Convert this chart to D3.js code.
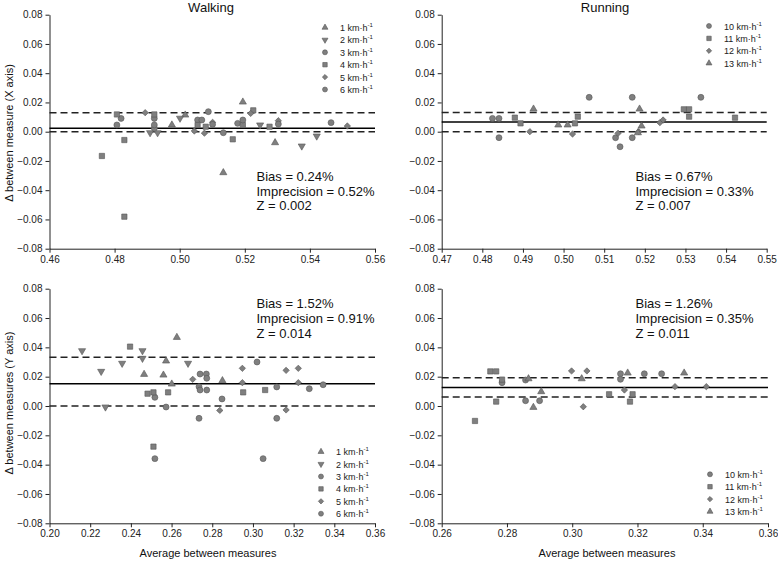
<!DOCTYPE html>
<html>
<head>
<meta charset="utf-8">
<script src="https://cdn.jsdelivr.net/npm/d3@7"></script>
<style>
  body { margin: 0; background: #fff; }
  svg { font-family: "Liberation Sans", Arial, sans-serif; }
</style>
</head>
<body>
<svg width="778" height="563"></svg>
<script>
// walking, X axis  [average, difference]
const walkX1 = [[0.4976, 0.0046], [0.5017, 0.0114], [0.5134, -0.028], [0.5194, 0.0203], [0.5293, -0.0075]];
const walkX2 = [[0.4909, -0.0007], [0.4932, -0.0007], [0.5001, 0.0092], [0.5247, 0.0046], [0.5375, -0.0098], [0.5421, -0.003]];
const walkX3 = [[0.4807, 0.0046], [0.482, 0.0091], [0.4922, 0.0091], [0.5055, 0.008], [0.5068, 0.008], [0.5088, 0.0137], [0.5178, 0.0057]];
const walkX4 = [[0.4807, 0.0118], [0.4761, -0.0166], [0.483, -0.0057], [0.483, -0.0581], [0.4922, 0.0118], [0.5055, 0.0046],
  [0.508, 0.0034], [0.5163, -0.0052], [0.5194, 0.0046], [0.5226, 0.0146], [0.5276, 0.0034]];
const walkX5 = [[0.4894, 0.013], [0.5045, 0.0005], [0.5076, -0.001], [0.5101, 0.0064], [0.5218, 0.0125], [0.5303, 0.0075], [0.5515, 0.0039]];
const walkX6 = [[0.4922, 0.0023], [0.4922, 0.0046], [0.5101, 0.005], [0.5134, -0.0007], [0.5194, 0.008], [0.5303, 0.0052], [0.5465, 0.0062]];

// running, X axis
const runX10 = [[0.4825, 0.0091], [0.4841, 0.0091], [0.4841, -0.0041], [0.5063, 0.0235], [0.5128, -0.0041], [0.5139, -0.0103],
  [0.5169, 0.0235], [0.5169, -0.0041], [0.5338, 0.0235]];
const runX11 = [[0.488, 0.0096], [0.4894, 0.0057], [0.5028, 0.0057], [0.5035, 0.0103], [0.5296, 0.0153], [0.5309, 0.0153], [0.5309, 0.0103], [0.5422, 0.0096]];
const runX12 = [[0.4917, 0.0], [0.5022, -0.0016], [0.5134, -0.0011], [0.5185, 0.0], [0.5237, 0.0062], [0.5245, 0.008]];
const runX13 = [[0.4926, 0.0155], [0.4987, 0.0046], [0.501, 0.0046], [0.5187, 0.0155], [0.5183, -0.0007], [0.5192, 0.0039]];

// walking, Y axis
const walkY1 = [[0.2465, 0.0216], [0.2573, 0.0307], [0.256, 0.0211], [0.2601, 0.015], [0.2626, 0.0468], [0.285, 0.0173]];
const walkY2 = [[0.216, 0.0377], [0.2254, 0.0236], [0.2275, -0.0007], [0.2357, 0.0291], [0.2457, 0.0377], [0.2457, 0.0325], [0.2681, 0.0291]];
const walkY3 = [[0.2518, 0.0059], [0.2573, -0.0007], [0.274, 0.0218], [0.2735, 0.0132], [0.274, 0.0109], [0.2771, 0.0218],
  [0.2773, 0.0189], [0.2773, 0.0109], [0.2735, -0.0084], [0.2848, 0.0048]];
const walkY4 = [[0.2396, 0.0405], [0.2482, 0.0084], [0.2511, 0.0093], [0.2511, -0.0277], [0.2583, 0.0093], [0.2952, 0.0093], [0.306, 0.0109]];
const walkY5 = [[0.2704, 0.0182], [0.2837, -0.003], [0.2948, 0.0257], [0.2948, 0.0159], [0.3163, 0.0243], [0.3163, -0.0027], [0.3223, 0.0257], [0.3223, 0.0159]];
const walkY6 = [[0.2518, -0.0359], [0.302, 0.03], [0.305, -0.0359], [0.3117, 0.013], [0.3117, -0.0084], [0.3277, 0.0118], [0.3345, 0.0145]];

// running, Y axis
const runY10 = [[0.2785, 0.0159], [0.2857, 0.0177], [0.2857, 0.0036], [0.29, 0.0036], [0.3148, 0.022], [0.3148, 0.0182], [0.3221, 0.022], [0.3274, 0.022]];
const runY11 = [[0.2702, -0.0102], [0.2749, 0.0236], [0.2767, 0.0236], [0.2767, 0.003], [0.2785, 0.018], [0.3113, 0.008], [0.3177, 0.003], [0.3185, 0.008]];
const runY12 = [[0.2998, 0.0239], [0.3034, -0.0005], [0.3045, 0.0239], [0.316, 0.0109], [0.3315, 0.0132], [0.3411, 0.0132]];
const runY13 = [[0.2866, 0.0186], [0.2881, -0.0009], [0.2905, 0.0098], [0.3029, 0.0186], [0.317, 0.0225], [0.3343, 0.0225]];

// bias, upper and lower limits
const walkXLines = [0.0024, 0.013, 0.0];
const runXLines = [0.0067, 0.0132, 0.0];
const walkYLines = [0.0152, 0.0333, 0.0];
const runYLines = [0.0126, 0.0193, 0.0062];

const walkLabels = ["1", "2", "3", "4", "5", "6"];
const runLabels = ["10", "11", "12", "13"];
const walkShapes = ["tri", "down", "circle", "square", "diamond", "circle"];
const runShapes = ["circle", "square", "diamond", "tri"];

const yTicks = [-0.08, -0.06, -0.04, -0.02, 0, 0.02, 0.04, 0.06, 0.08];
const walkXTicks = [0.46, 0.48, 0.5, 0.52, 0.54, 0.56];
const runXTicks = [0.47, 0.48, 0.49, 0.5, 0.51, 0.52, 0.53, 0.54, 0.55];
const walkYTicks = [0.2, 0.22, 0.24, 0.26, 0.28, 0.3, 0.32, 0.34, 0.36];
const runYTicks = [0.26, 0.28, 0.3, 0.32, 0.34, 0.36];

const walkXStats = ["Bias = 0.24%", "Imprecision = 0.52%", "Z = 0.002"];
const runXStats = ["Bias = 0.67%", "Imprecision = 0.33%", "Z = 0.007"];
const walkYStats = ["Bias = 1.52%", "Imprecision = 0.91%", "Z = 0.014"];
const runYStats = ["Bias = 1.26%", "Imprecision = 0.35%", "Z = 0.011"];

const svg = d3.select("svg");

const symbolFor = (shape, k) => {
  if (shape === "tri" || shape === "down") return d3.symbol(d3.symbolTriangle, 22 * k)();
  if (shape === "square") return d3.symbol(d3.symbolSquare, 28 * k)();
  if (shape === "diamond") return d3.symbol(d3.symbolSquare, 20 * k)();
  return d3.symbol(d3.symbolCircle, 28 * k)();
};

const drawMarker = (g, shape, x, y, k = 1) => {
  let rot = "";
  if (shape === "down") rot = " rotate(180)";
  if (shape === "diamond") rot = " rotate(45)";
  g.append("path")
    .attr("d", symbolFor(shape, k))
    .attr("transform", `translate(${x},${y})` + rot)
    .attr("fill", "#7f7f7f")
    .attr("stroke", "#555")
    .attr("stroke-width", 0.6);
};

const drawPanel = (p) => {
  const x = d3.scaleLinear().domain(p.xDomain).range([p.left, p.right]);
  const y = d3.scaleLinear().domain([-0.08, 0.08]).range([p.bottom, p.top]);
  const g = svg.append("g");

  g.append("g")
    .attr("transform", `translate(${p.left},0)`)
    .call(d3.axisLeft(y).tickValues(yTicks).tickFormat(d3.format(".2f")).tickSize(4).tickSizeOuter(0))
    .call((a) => a.selectAll("text").attr("font-size", 10).attr("fill", "#222"));

  g.append("g")
    .attr("transform", `translate(0,${p.bottom})`)
    .call(d3.axisBottom(x).tickValues(p.xTicks).tickFormat(d3.format(".2f")).tickSize(4).tickSizeOuter(0))
    .call((a) => a.selectAll("text").attr("font-size", 10).attr("fill", "#222"));

  g.selectAll(".domain, .tick line").attr("stroke", "#222");
  g.selectAll("text").attr("font-family", "Liberation Sans, Arial, sans-serif");

  // bias line and limits
  p.lines.forEach((v, i) => {
    g.append("line")
      .attr("x1", p.left).attr("x2", p.right)
      .attr("y1", y(v)).attr("y2", y(v))
      .attr("stroke", i === 0 ? "#000" : "#222")
      .attr("stroke-width", 1.5)
      .attr("stroke-dasharray", i === 0 ? null : "7,4");
  });

  p.series.forEach((s, i) => {
    s.forEach((d) => drawMarker(g, p.shapes[i], x(d[0]), y(d[1])));
  });

  // legend
  p.labels.forEach((lab, i) => {
    const ly = p.legendY + i * 12.4;
    drawMarker(g, p.shapes[i], p.legendX, ly, 0.7);
    const t = g.append("text")
      .attr("x", p.legendX + 15).attr("y", ly + 3.5)
      .attr("font-size", 9).attr("fill", "#222");
    t.append("tspan").text(lab + " km\u00b7h");
    t.append("tspan").attr("dy", -4).attr("font-size", 6).text("-1");
  });

  // stats
  p.stats.forEach((s, i) => {
    g.append("text")
      .attr("x", p.statX).attr("y", p.statY + i * 14.6)
      .attr("font-size", 13).attr("fill", "#111")
      .text(s);
  });
};

const panels = [
  { xDomain: [0.46, 0.56], xTicks: walkXTicks, left: 49.5, right: 375, top: 14.7, bottom: 248.7,
    series: [walkX1, walkX2, walkX3, walkX4, walkX5, walkX6], shapes: walkShapes, labels: walkLabels,
    lines: walkXLines, stats: walkXStats, legendX: 325, legendY: 27.5, statX: 256.5, statY: 181 },
  { xDomain: [0.47, 0.55], xTicks: runXTicks, left: 441.7, right: 766.7, top: 14.7, bottom: 248.7,
    series: [runX10, runX11, runX12, runX13], shapes: runShapes, labels: runLabels,
    lines: runXLines, stats: runXStats, legendX: 709, legendY: 26, statX: 635.5, statY: 181 },
  { xDomain: [0.2, 0.36], xTicks: walkYTicks, left: 49.5, right: 375, top: 288.7, bottom: 523.3,
    series: [walkY1, walkY2, walkY3, walkY4, walkY5, walkY6], shapes: walkShapes, labels: walkLabels,
    lines: walkYLines, stats: walkYStats, legendX: 321, legendY: 451.7, statX: 256.5, statY: 308.3 },
  { xDomain: [0.26, 0.36], xTicks: runYTicks, left: 441.7, right: 768, top: 288.7, bottom: 523.3,
    series: [runY10, runY11, runY12, runY13], shapes: runShapes, labels: runLabels,
    lines: runYLines, stats: runYStats, legendX: 710, legendY: 474.3, statX: 635.5, statY: 308.3 },
];

panels.forEach(drawPanel);

// titles and axis labels
const addText = (txt, x, y, size, rotate) => {
  const t = svg.append("text")
    .attr("text-anchor", "middle")
    .attr("font-size", size)
    .attr("fill", "#111")
    .text(txt);
  if (rotate) t.attr("transform", `translate(${x},${y}) rotate(-90)`);
  else t.attr("x", x).attr("y", y);
};

addText("Walking", 211, 12, 13);
addText("Running", 605, 12, 13);
addText("\u0394 between measure (X axis)", 13, 133, 11, true);
addText("\u0394 between measures (Y axis)", 13, 403, 11, true);
addText("Average between measures", 208, 557, 11);
addText("Average between measures", 607, 557, 11);
</script>
</body>
</html>
